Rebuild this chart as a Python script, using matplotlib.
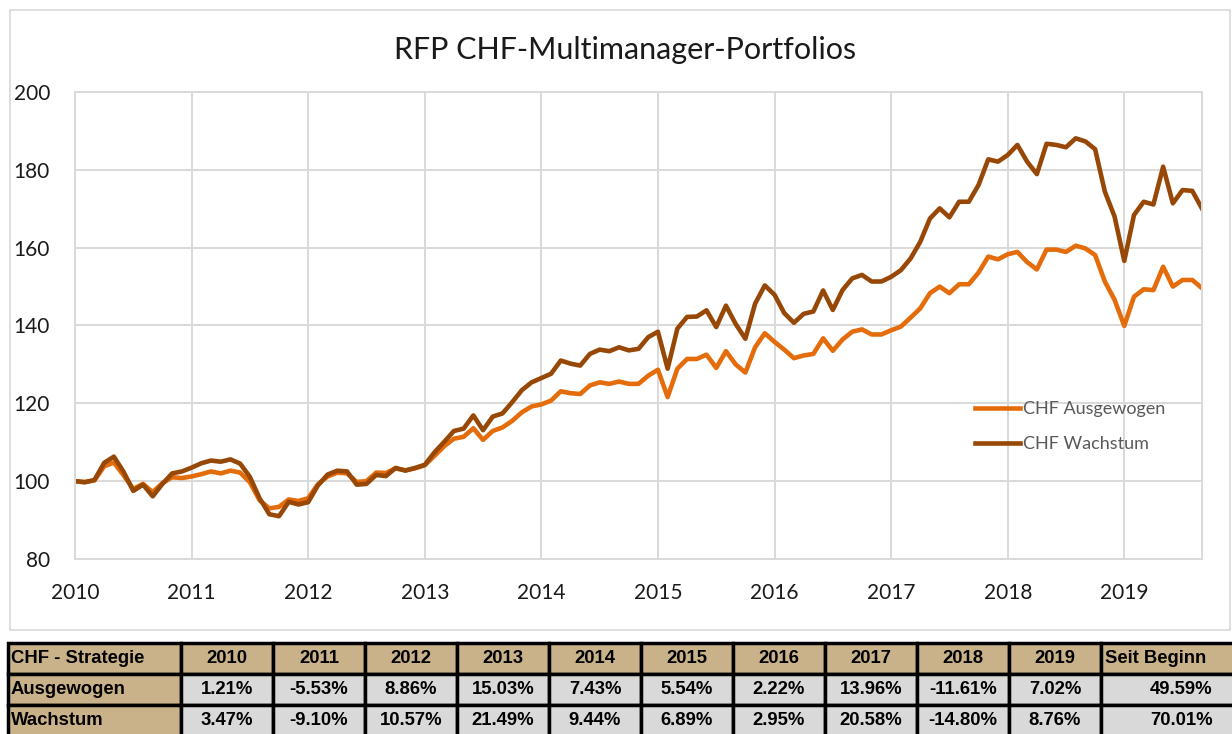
import numpy as np
import matplotlib
matplotlib.use("Agg")
import matplotlib.pyplot as plt
from matplotlib.patches import Rectangle

# monthly index values, start of 2010 = 100, one point per month end
ausgewogen = [
    100.0, 99.8, 100.2, 103.8, 104.8, 101.5, 98.0, 99.3, 97.2, 99.5, 101.0, 100.8,
    101.21, 101.8, 102.5, 102.0, 102.7, 102.2, 99.7, 95.1, 93.0, 93.4, 95.3, 94.9,
    95.61, 99.2, 101.2, 102.2, 102.0, 99.8, 100.0, 102.2, 102.1, 103.3, 102.8, 103.3,
    104.09, 106.5, 109.0, 110.9, 111.4, 113.6, 110.6, 112.9, 113.8, 115.5, 117.7, 119.2,
    119.73, 120.7, 123.1, 122.6, 122.4, 124.6, 125.4, 125.0, 125.6, 125.0, 125.0, 127.1,
    128.63, 121.6, 128.9, 131.4, 131.4, 132.5, 129.1, 133.4, 130.0, 127.9, 134.4, 138.0,
    135.8, 133.8, 131.6, 132.3, 132.7, 136.7, 133.5, 136.4, 138.4, 139.0, 137.7, 137.7,
    138.77, 139.7, 142.0, 144.4, 148.3, 150.0, 148.3, 150.6, 150.6, 153.6, 157.7, 157.0,
    158.3, 158.9, 156.3, 154.4, 159.5, 159.5, 158.9, 160.5, 159.8, 158.1, 151.3, 146.6,
    139.9, 147.4, 149.3, 149.1, 155.1, 150.0, 151.7, 151.7, 149.59,
]
wachstum = [
    100.0, 99.7, 100.3, 104.7, 106.3, 102.4, 97.5, 99.1, 96.1, 99.3, 102.0, 102.5,
    103.47, 104.6, 105.3, 105.0, 105.6, 104.5, 101.1, 95.6, 91.5, 91.0, 94.7, 94.0,
    94.6, 98.9, 101.7, 102.7, 102.5, 99.1, 99.3, 101.6, 101.3, 103.4, 102.7, 103.4,
    104.2, 107.4, 110.1, 112.9, 113.5, 116.9, 113.1, 116.6, 117.4, 120.3, 123.4, 125.4,
    126.5, 127.6, 131.0, 130.2, 129.7, 132.7, 133.8, 133.4, 134.4, 133.6, 134.0, 137.0,
    138.4, 128.9, 139.2, 142.2, 142.3, 143.9, 139.6, 145.1, 140.4, 136.6, 145.6, 150.3,
    147.9, 143.2, 140.7, 143.0, 143.6, 149.0, 144.0, 149.1, 152.1, 153.0, 151.3, 151.3,
    152.5, 154.2, 157.2, 161.5, 167.5, 170.1, 167.8, 171.8, 171.8, 176.1, 182.7, 182.1,
    183.8, 186.4, 182.1, 178.9, 186.7, 186.4, 185.8, 188.1, 187.3, 185.3, 174.4, 168.0,
    156.6, 168.4, 171.8, 171.1, 180.8, 171.4, 174.8, 174.6, 170.03,
]
months = 2010 + np.arange(len(ausgewogen)) / 12

# yearly returns table
col_labels = ["CHF - Strategie", "2010", "2011", "2012", "2013", "2014", "2015",
              "2016", "2017", "2018", "2019", "Seit Beginn"]
row_ausgewogen = ["Ausgewogen", "1.21%", "-5.53%", "8.86%", "15.03%", "7.43%", "5.54%",
                  "2.22%", "13.96%", "-11.61%", "7.02%", "49.59%"]
row_wachstum = ["Wachstum", "3.47%", "-9.10%", "10.57%", "21.49%", "9.44%", "6.89%",
                "2.95%", "20.58%", "-14.80%", "8.76%", "70.01%"]

c_ausg = "#E46C0A"
c_wach = "#984806"
grid_c = "#D9D9D9"
tan = "#C9B289"
cell_grey = "#D9D9D9"

W, H = 1232, 734
fig = plt.figure(figsize=(W / 100, H / 100), dpi=100)
plt.rcParams["font.family"] = ["Lato", "DejaVu Sans"]

# light chart frame
fig.patches.append(Rectangle((10 / W, 1 - 630 / H), 1220 / W, 620 / H,
                             transform=fig.transFigure, fill=False,
                             edgecolor=grid_c, lw=1.2))

ax = fig.add_axes([75 / W, 1 - 559 / H, (1202 - 75) / W, 467 / H])
ax.plot(months, ausgewogen, color=c_ausg, lw=3.3, label="CHF Ausgewogen",
        solid_joinstyle="round")
ax.plot(months, wachstum, color=c_wach, lw=3.3, label="CHF Wachstum",
        solid_joinstyle="round")
ax.set_xlim(2010, months[-1])
ax.set_ylim(80, 200)
ax.set_yticks(range(80, 201, 20))
ax.set_xticks(range(2010, 2020))
ax.grid(True, color=grid_c, lw=1.4)
ax.set_axisbelow(True)
for s in ax.spines.values():
    s.set_color(grid_c)
    s.set_linewidth(1.4)
ax.tick_params(length=0, labelsize=15, colors="#1a1a1a")
ax.tick_params(axis="y", pad=18)
ax.tick_params(axis="x", pad=17)

fig.text(625 / W, 1 - 50 / H, "RFP CHF-Multimanager-Portfolios", ha="center",
         va="center", fontsize=22, color="#1a1a1a")

leg = ax.legend(loc="upper left", bbox_to_anchor=(975 / W, 1 - 401 / H),
                bbox_transform=fig.transFigure, frameon=False, fontsize=13,
                handlelength=2.5, handletextpad=0.15, labelspacing=1.05,
                borderpad=0, borderaxespad=0)
for t in leg.get_texts():
    t.set_color("#595959")

# table
edges = [8, 181, 273, 365, 457, 549, 641, 733, 825, 917, 1009, 1101, 1262]
widths = np.diff(edges)
tax = fig.add_axes([edges[0] / W, 1 - 736 / H, (edges[-1] - edges[0]) / W, 93 / H])
tax.axis("off")
cells = [col_labels, row_ausgewogen, row_wachstum]
colors = [[tan] * len(col_labels)] + [[tan] + [cell_grey] * (len(col_labels) - 1)] * 2
tbl = tax.table(cellText=cells, cellColours=colors, colWidths=list(widths / widths.sum()),
                bbox=[0, 0, 1, 1], cellLoc="center")
tbl.auto_set_font_size(False)
for (r, c), cell in tbl.get_celld().items():
    cell.set_edgecolor("black")
    cell.set_linewidth(2.5)
    cell.set_text_props(weight="bold", fontsize=13.3, family="Liberation Sans",
                        color="black")
    if c == 0 or (r == 0 and c == len(col_labels) - 1):
        cell.get_text().set_ha("left")
        cell.PAD = 0.015 if c == 0 else 0.025

fig.savefig("out.png", dpi=100)
